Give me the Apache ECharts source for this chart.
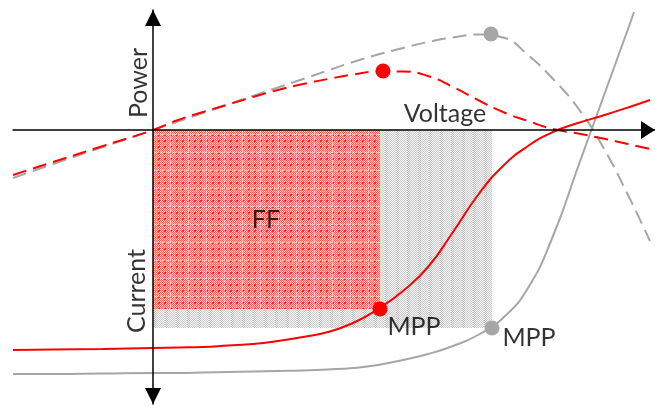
<!DOCTYPE html>
<html>
<head>
<meta charset="utf-8">
<script src="https://cdn.jsdelivr.net/npm/echarts@6/dist/echarts.min.js"></script>
<style>html,body{margin:0;padding:0;background:#fff}#c{width:655px;height:406px}</style>
</head>
<body>
<div id="c"></div>
<script>
// Voltage values (x) and the matching current / power values (y)
const voltage = [-1.40, -1.0, -0.5, 0, 0.25, 0.5, 0.75, 1.0, 1.25, 1.5, 1.75, 2.0, 2.25, 2.5, 2.75, 3.0, 3.25, 3.5, 3.75, 4.0, 4.25, 4.5, 4.75, 4.97];

const redPower = [-0.45, -0.32, -0.16, 0, 0.10, 0.18, 0.255, 0.33, 0.40, 0.46, 0.51, 0.555, 0.585, 0.585, 0.54, 0.43, 0.30, 0.18, 0.09, 0.01, -0.035, -0.085, -0.14, -0.19];
const grayPower = [-0.48, -0.34, -0.17, 0, 0.085, 0.17, 0.255, 0.34, 0.425, 0.51, 0.595, 0.68, 0.755, 0.82, 0.88, 0.925, 0.955, 0.925, 0.75, 0.51, 0.22, -0.17, -0.65, -1.11];

const redCurrent = [-2.20, -2.195, -2.19, -2.18, -2.175, -2.17, -2.155, -2.14, -2.11, -2.07, -2.02, -1.93, -1.79, -1.61, -1.37, -1.02, -0.65, -0.36, -0.16, -0.02, 0.07, 0.145, 0.225, 0.30];
// gray current curve ends earlier (leaves the top of the picture)
const grayCurrentV = [-1.40, -1.0, -0.5, 0, 0.25, 0.5, 0.75, 1.0, 1.25, 1.5, 1.75, 2.0, 2.25, 2.5, 2.75, 3.0, 3.25, 3.5, 3.75, 4.0, 4.25, 4.5, 4.75, 4.81];
const grayCurrent = [-2.44, -2.44, -2.435, -2.43, -2.43, -2.425, -2.42, -2.415, -2.41, -2.405, -2.395, -2.38, -2.35, -2.30, -2.24, -2.16, -2.05, -1.88, -1.58, -1.06, -0.37, 0.32, 1.01, 1.18];

// Maximum power points: [voltage, current] on IV curves, [voltage, power] on power curves
const redMppIV = [2.27, -1.79];
const grayMppIV = [3.39, -1.98];
const redMppP = [2.30, 0.59];
const grayMppP = [3.38, 0.96];

// Text annotations: [voltage, value, text, rotation]
const labels = [
  [2.92, 0.165, 'Voltage', 0],
  [-0.145, 0.47, 'Power', 90],
  [-0.165, -1.61, 'Current', 90],
  [1.13, -0.90, 'FF', 0],
  [2.61, -1.97, 'MPP', 0],
  [3.76, -2.08, 'MPP', 0]
];

function zip(a, b) { return a.map((v, i) => [v, b[i]]); }

function redPattern() {
  const c = document.createElement('canvas'); c.width = 18; c.height = 18;
  const g = c.getContext('2d');
  g.fillStyle = '#ffcaca'; g.fillRect(0, 0, 18, 18);
  for (let y = 0; y < 18; y++) for (let x = 0; x < 18; x++) {
    if ((x + y) % 2 === 0) { g.fillStyle = '#ff5858'; g.fillRect(x, y, 1, 1); }
  }
  for (const i of [0, 6, 12]) for (const j of [0, 6, 12]) {
    g.fillStyle = '#ff2a2a'; g.fillRect(i + 2, j + 2, 2, 2);
  }
  g.fillStyle = 'rgba(255,255,255,0.45)';
  g.fillRect(8, 0, 1, 18); g.fillRect(0, 8, 18, 1);
  return c;
}
function grayPattern() {
  const c = document.createElement('canvas'); c.width = 11; c.height = 4;
  const g = c.getContext('2d');
  g.fillStyle = '#f2f2f2'; g.fillRect(0, 0, 11, 4);
  for (let y = 0; y < 4; y++) for (let x = 0; x < 11; x++) {
    if ((x + y) % 2 === 0) { g.fillStyle = (x < 3) ? '#b8b8b8' : '#cdcdcd'; g.fillRect(x, y, 1, 1); }
  }
  return c;
}
const redPat = { image: redPattern(), repeat: 'repeat' };
const grayPat = { image: grayPattern(), repeat: 'repeat' };

const chart = echarts.init(document.getElementById('c'), null, { renderer: 'canvas' });

const RED = '#ff0000', GRAY = '#a6a6a6';
const SMOOTH = 0.5;

const option = {
  animation: false,
  grid: { left: 13, right: 0, top: 10, bottom: 2, containLabel: false },
  xAxis: {
    type: 'value', min: -1.40, max: 5.02, z: 5,
    axisLine: { onZero: true, symbol: ['none', 'triangle'], symbolSize: [18, 14], symbolOffset: [0, -7],
      lineStyle: { color: '#000', width: 1.5 } },
    axisTick: { show: false }, axisLabel: { show: false }, splitLine: { show: false }
  },
  yAxis: {
    type: 'value', min: -2.74, max: 1.20, z: 5,
    axisLine: { onZero: true, symbol: ['triangle', 'triangle'], symbolSize: [16, 16], symbolOffset: [8, -8],
      lineStyle: { color: '#000', width: 1.5 } },
    axisTick: { show: false }, axisLabel: { show: false }, splitLine: { show: false }
  },
  series: [
    {
      type: 'custom', z: 1, silent: true,
      data: [[0, 0, grayMppIV[0], grayMppIV[1], 0], [0, 0, redMppIV[0], redMppIV[1], 1]],
      renderItem: function (params, api) {
        const p0 = api.coord([api.value(0), api.value(1)]);
        const p1 = api.coord([api.value(2), api.value(3)]);
        return {
          type: 'rect',
          shape: { x: p0[0], y: p0[1], width: p1[0] - p0[0], height: p1[1] - p0[1] },
          style: { fill: api.value(4) === 1 ? redPat : grayPat }
        };
      }
    },
    { type: 'line', z: 3, data: zip(grayCurrentV, grayCurrent), showSymbol: false, smooth: SMOOTH,
      lineStyle: { color: GRAY, width: 2 } },
    { type: 'line', z: 3, data: zip(voltage, grayPower), showSymbol: false, smooth: SMOOTH,
      lineStyle: { color: GRAY, width: 2, type: [14, 7] } },
    { type: 'line', z: 3, data: zip(voltage, redCurrent), showSymbol: false, smooth: SMOOTH,
      lineStyle: { color: RED, width: 2 } },
    { type: 'line', z: 3, data: zip(voltage, redPower), showSymbol: false, smooth: SMOOTH,
      lineStyle: { color: RED, width: 2, type: [14, 7] } },
    { type: 'scatter', z: 4, symbolSize: 15, data: [grayMppIV, grayMppP], itemStyle: { color: GRAY, opacity: 1 } },
    { type: 'scatter', z: 4, symbolSize: 15, data: [redMppIV, redMppP], itemStyle: { color: RED, opacity: 1 } },
    {
      type: 'scatter', z: 6, symbolSize: 0, silent: true,
      data: labels.map(l => ({ value: [l[0], l[1]], name: l[2],
        label: { rotate: l[3] } })),
      label: { show: true, position: 'inside', formatter: '{b}', color: '#000',
        fontFamily: 'Lato', fontSize: 25 }
    }
  ]
};
chart.setOption(option);
</script>
</body>
</html>
